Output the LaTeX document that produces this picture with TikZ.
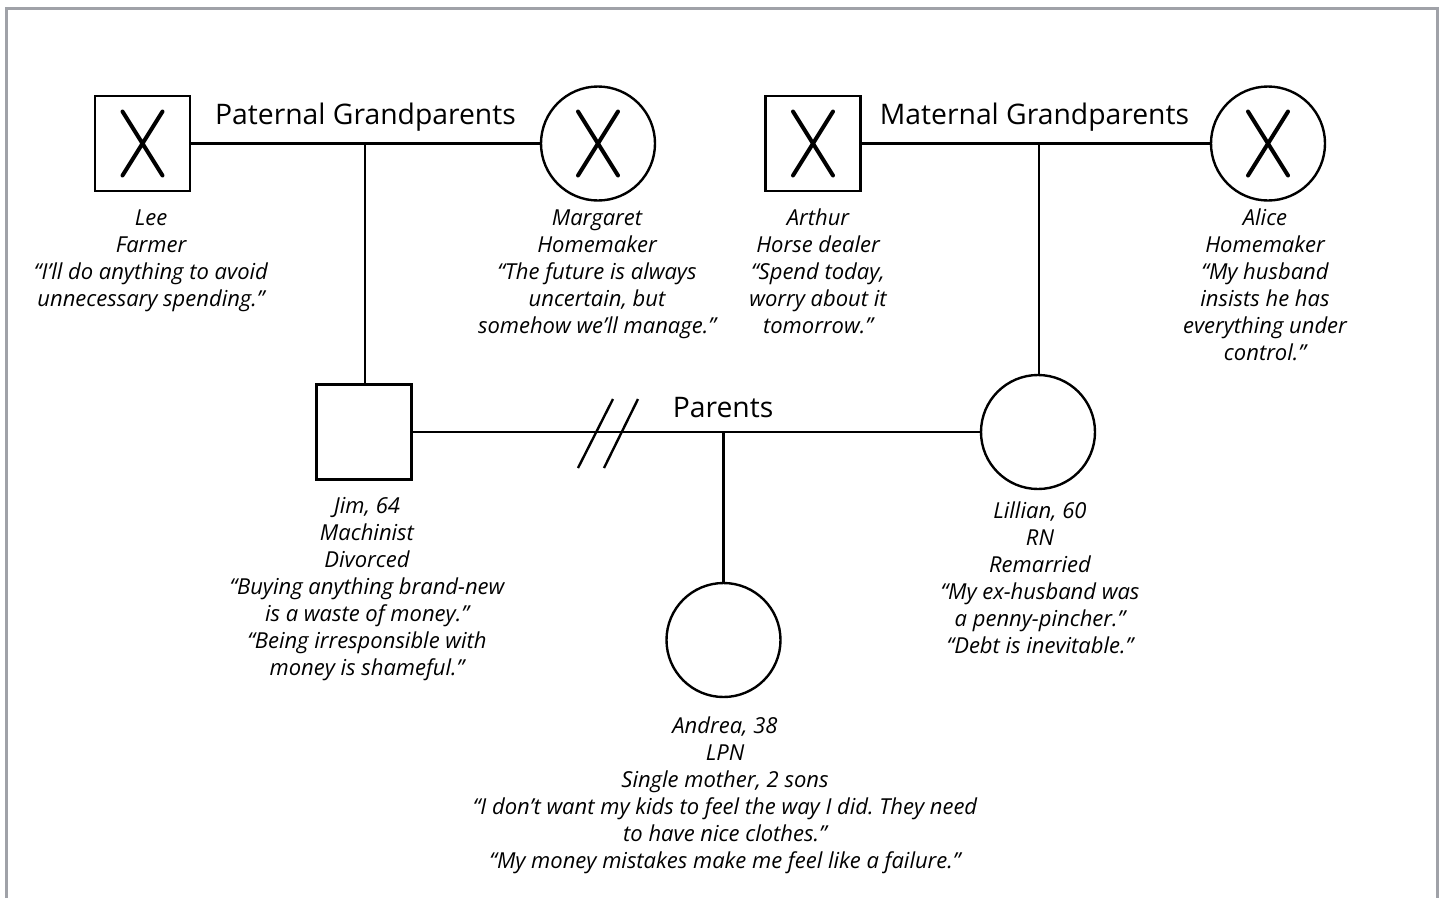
\documentclass[tikz,border=0pt]{standalone}
\usepackage{fontspec}
\setmainfont{Open Sans}
\definecolor{framegray}{RGB}{160,162,168}
\frenchspacing
\begin{document}
\begin{tikzpicture}[x=1pt, y=-1pt, line width=2.4pt,
  male/.style={draw, rectangle, minimum size=95pt, inner sep=0pt},
  female/.style={draw, circle, minimum size=114pt, inner sep=0pt},
  deceased/.style={path picture={
    \draw[line width=4pt, line cap=round]
      ([shift={(-20pt,-32pt)}]path picture bounding box.center) -- ([shift={(20pt,32pt)}]path picture bounding box.center)
      ([shift={(20pt,-32pt)}]path picture bounding box.center) -- ([shift={(-20pt,32pt)}]path picture bounding box.center);}},
  info/.style={anchor=north, inner sep=0pt, align=center, font=\fontsize{22}{27}\selectfont\itshape},
  title/.style={anchor=base, inner sep=0pt, font=\fontsize{28.3}{33}\selectfont}]
\useasboundingbox (0,0) rectangle (1443,898);
% Rahmen
\draw[framegray, line width=3pt] (6.5,898) -- (6.5,8.5) -- (1437.5,8.5) -- (1437.5,898);

% Grosseltern
\node[male, deceased] (lee) at (142.5,143.5) {};
\node[female, deceased] (margaret) at (598,143.5) {};
\node[male, deceased] (arthur) at (813,143.5) {};
\node[female, deceased] (alice) at (1268,143.5) {};

% Eltern und Kind
\node[male] (jim) at (364,432) {};
\node[female] (lillian) at (1038,432) {};
\node[female] (andrea) at (723.5,640) {};

% Verbindungen
\draw (lee) -- (margaret);
\coordinate (pgc) at (365,143.5);
\draw (pgc) -- (pgc |- jim.north);
\draw (arthur) -- (alice);
\coordinate (mgc) at (1039,143.5);
\draw (mgc) -- (mgc |- lillian.north);
\draw (jim) -- (lillian);
\coordinate (pc) at (723.5,432);
\draw (pc) -- (andrea);
% geschieden
\draw (578,468) -- (613,399);
\draw (604,468) -- (638,399);

% Beschriftungen
\node[title] (pgtitle) at (365.5,124) {Paternal Grandparents};
\node[title] (mgtitle) at (1034.5,124) {Maternal Grandparents};
\node[title] (ptitle) at (723,417) {Parents};

\node[info] (leeinfo) at (151,205) {\strut Lee\\Farmer\\“I’ll do anything to avoid\\unnecessary spending.”};
\node[info] (margaretinfo) at (597,205) {\strut Margaret\\Homemaker\\“The future is always\\uncertain, but\\somehow we’ll manage.”};
\node[info] (arthurinfo) at (818,205) {\strut Arthur\\Horse dealer\\“Spend today,\\worry about it\\tomorrow.”};
\node[info] (aliceinfo) at (1265,205) {\strut Alice\\Homemaker\\“My husband\\insists he has\\everything under\\control.”};
\node[info] (jiminfo) at (367,493) {\strut Jim, 64\\Machinist\\Divorced\\“Buying anything brand-new\\is a waste of money.”\\“Being irresponsible with\\money is shameful.”};
\node[info] (lillianinfo) at (1040,498) {\strut Lillian, 60\\RN\\Remarried\\“My ex-husband was\\a penny-pincher.”\\“Debt is inevitable.”};
\node[info] (andreainfo) at (725,713) {\strut Andrea, 38\\LPN\\Single mother, 2 sons\\“I don’t want my kids to feel the way I did. They need\\to have nice clothes.”\\“My money mistakes make me feel like a failure.”};
\end{tikzpicture}
\end{document}
